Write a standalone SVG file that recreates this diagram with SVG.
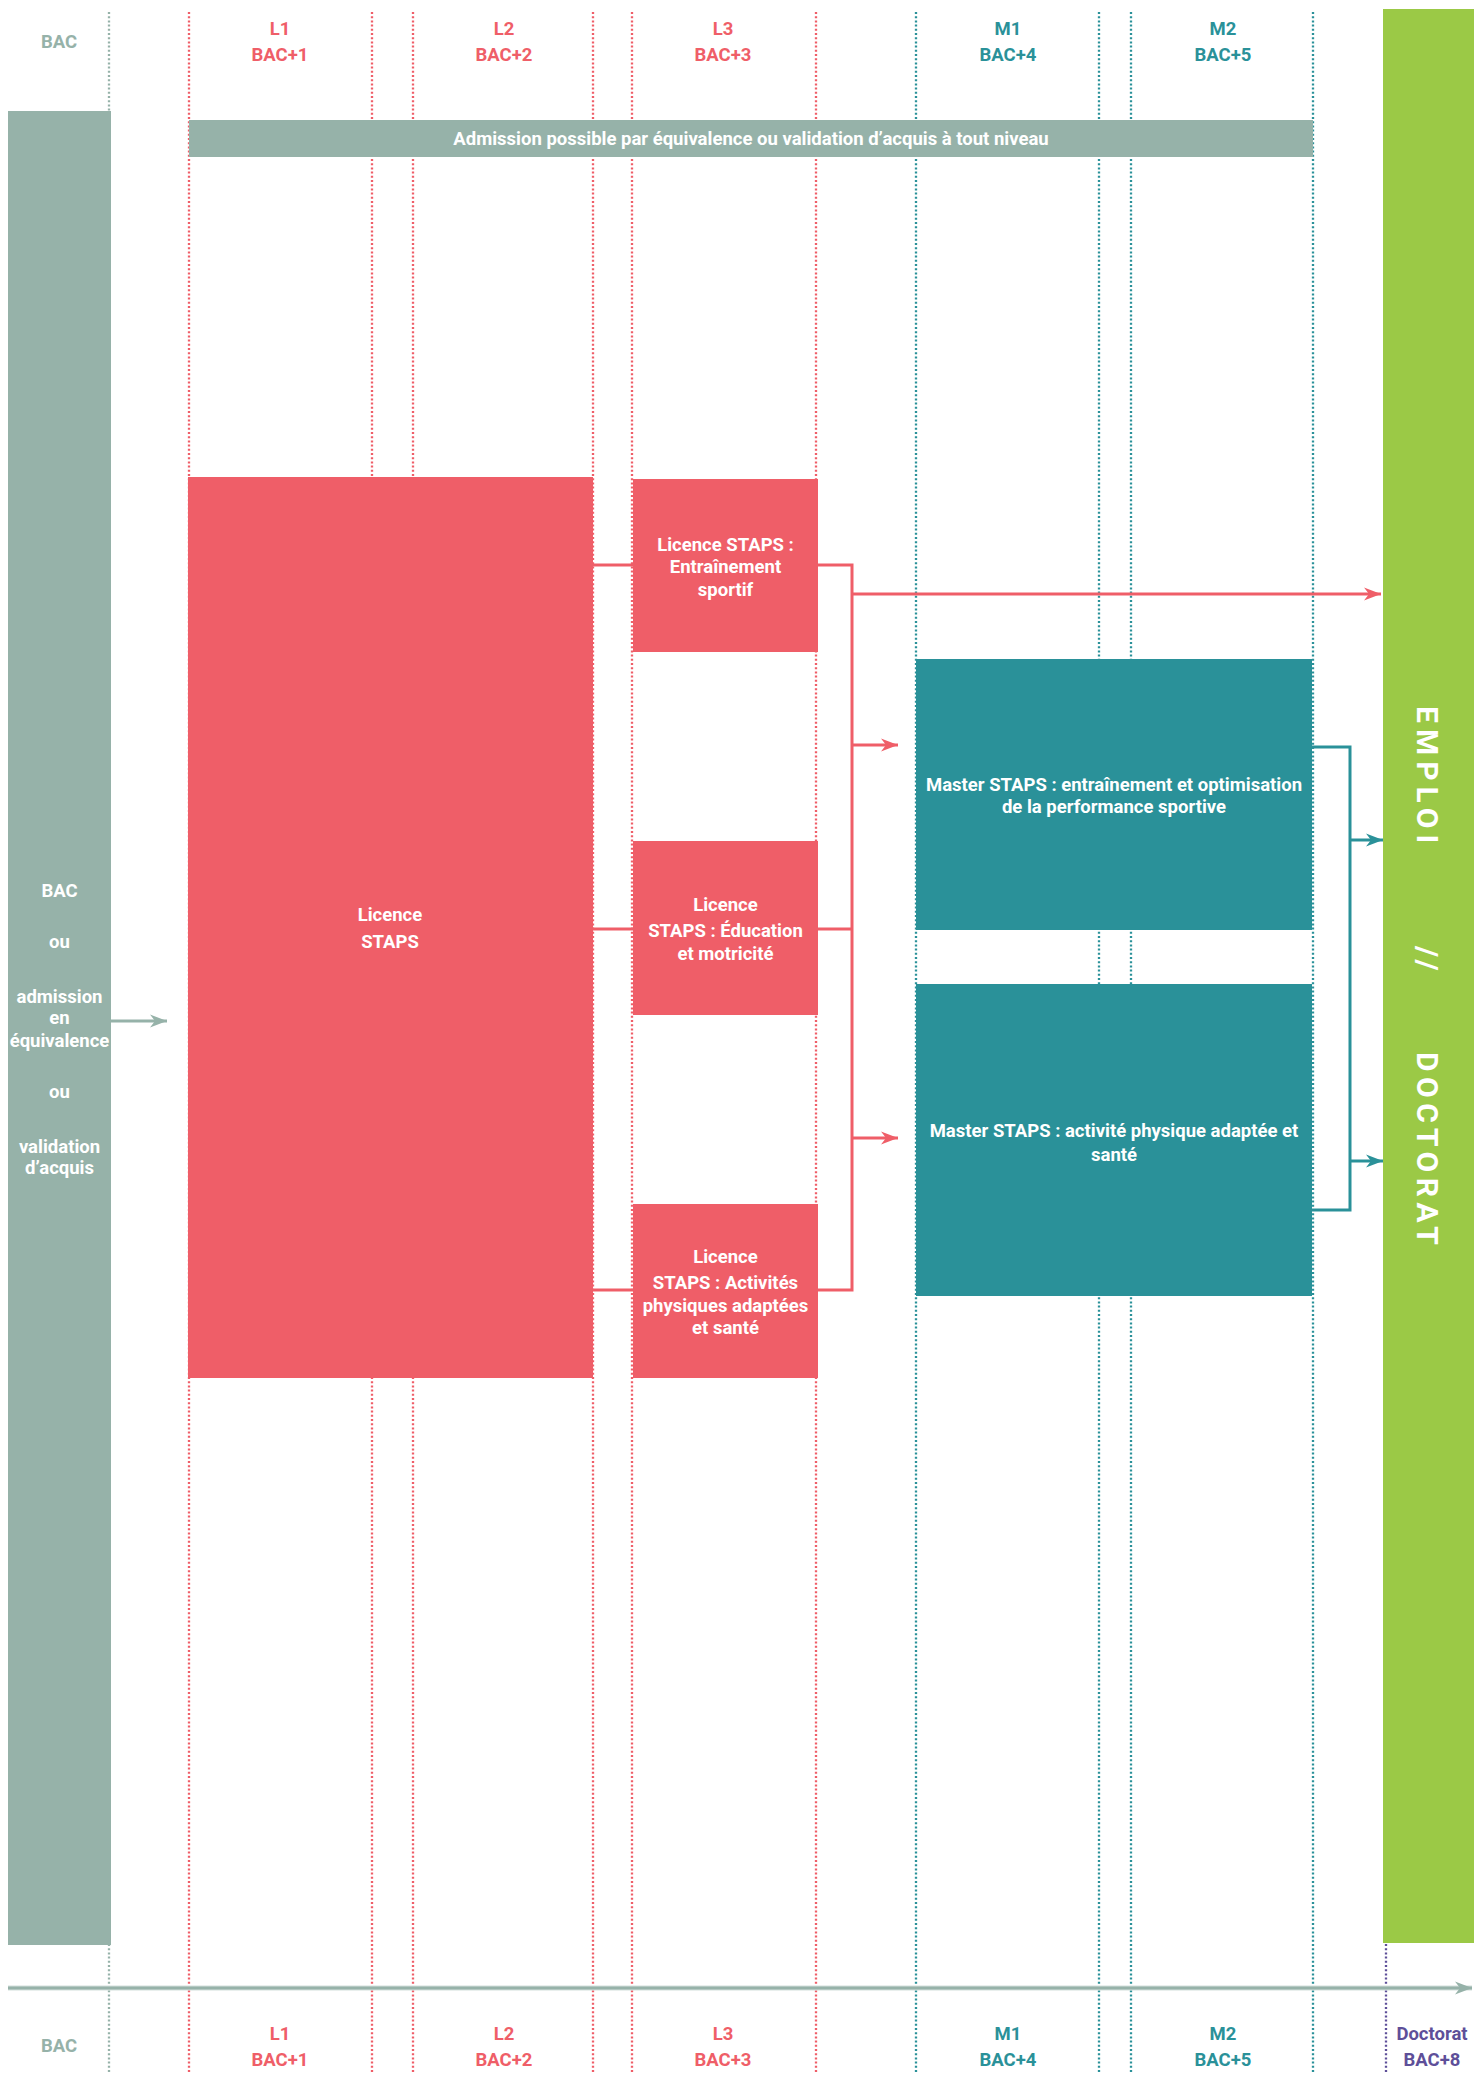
<svg xmlns="http://www.w3.org/2000/svg" width="1474" height="2074" viewBox="0 0 1474 2074">
<style>
.t{font-family:Roboto,"Liberation Sans","DejaVu Sans",sans-serif;font-weight:700;font-size:18.5px;text-anchor:middle}
.w{fill:#ffffff}
.cr{fill:#EF5E68}
.ct{fill:#2A9199}
.cg{fill:#96B2A9}
.cp{fill:#5E4F99}
.dr{stroke:#EF5E68;stroke-width:2.3;stroke-dasharray:2 2.2;fill:none}
.dt{stroke:#2A9199;stroke-width:2.3;stroke-dasharray:2 2.2;fill:none}
.dg{stroke:#96B2A9;stroke-width:2.3;stroke-dasharray:2 2.2;fill:none}
.dp{stroke:#5E4F99;stroke-width:2.3;stroke-dasharray:2 2.2;fill:none}
.lr{stroke:#EF5E68;stroke-width:3;fill:none}
.lt{stroke:#2A9199;stroke-width:3;fill:none}
.lg{stroke:#96B2A9;stroke-width:3;fill:none}
</style>
<defs>
<marker id="ar" markerUnits="userSpaceOnUse" markerWidth="18" markerHeight="14" refX="17" refY="7" orient="auto"><path d="M0,0.5 L17,7 L0,13.5 L5,7 Z" fill="#EF5E68"/></marker>
<marker id="at" markerUnits="userSpaceOnUse" markerWidth="18" markerHeight="14" refX="17" refY="7" orient="auto"><path d="M0,0.5 L17,7 L0,13.5 L5,7 Z" fill="#2A9199"/></marker>
<marker id="ag" markerUnits="userSpaceOnUse" markerWidth="18" markerHeight="14" refX="17" refY="7" orient="auto"><path d="M0,0.5 L17,7 L0,13.5 L5,7 Z" fill="#96B2A9"/></marker>
</defs>
<rect x="0" y="0" width="1474" height="2074" fill="#ffffff"/>

<g id="gridlines">
<line class="dg" x1="109" y1="12" x2="109" y2="2074"/>
<line class="dr" x1="189" y1="12" x2="189" y2="2074"/>
<line class="dr" x1="372" y1="12" x2="372" y2="2074"/>
<line class="dr" x1="413" y1="12" x2="413" y2="2074"/>
<line class="dr" x1="593" y1="12" x2="593" y2="2074"/>
<line class="dr" x1="632" y1="12" x2="632" y2="2074"/>
<line class="dr" x1="816" y1="12" x2="816" y2="2074"/>
<line class="dt" x1="916" y1="12" x2="916" y2="2074"/>
<line class="dt" x1="1099" y1="12" x2="1099" y2="2074"/>
<line class="dt" x1="1131" y1="12" x2="1131" y2="2074"/>
<line class="dt" x1="1313" y1="12" x2="1313" y2="2074"/>
<line class="dp" x1="1386" y1="12" x2="1386" y2="2074"/>
</g>

<g id="header-top">
<text class="t cg" x="59" y="48">BAC</text>
<text class="t cr" x="280" y="35">L1</text><text class="t cr" x="280" y="61">BAC+1</text>
<text class="t cr" x="504" y="35">L2</text><text class="t cr" x="504" y="61">BAC+2</text>
<text class="t cr" x="723" y="35">L3</text><text class="t cr" x="723" y="61">BAC+3</text>
<text class="t ct" x="1008" y="35">M1</text><text class="t ct" x="1008" y="61">BAC+4</text>
<text class="t ct" x="1223" y="35">M2</text><text class="t ct" x="1223" y="61">BAC+5</text>
</g>

<g id="timeline">
<line x1="8" y1="1988" x2="1472" y2="1988" stroke="#D3DFDB" stroke-width="5"/>
<line class="lg" x1="8" y1="1988" x2="1472" y2="1988" marker-end="url(#ag)"/>
<text class="t cg" x="59" y="2052">BAC</text>
<text class="t cr" x="280" y="2040">L1</text><text class="t cr" x="280" y="2066">BAC+1</text>
<text class="t cr" x="504" y="2040">L2</text><text class="t cr" x="504" y="2066">BAC+2</text>
<text class="t cr" x="723" y="2040">L3</text><text class="t cr" x="723" y="2066">BAC+3</text>
<text class="t ct" x="1008" y="2040">M1</text><text class="t ct" x="1008" y="2066">BAC+4</text>
<text class="t ct" x="1223" y="2040">M2</text><text class="t ct" x="1223" y="2066">BAC+5</text>
<text class="t cp" x="1432" y="2040">Doctorat</text><text class="t cp" x="1432" y="2066">BAC+8</text>
</g>

<g id="admission-bar">
<rect x="189" y="120" width="1124" height="37" fill="#96B2A9"/>
<text class="t w" x="751" y="145">Admission possible par équivalence ou validation d’acquis à tout niveau</text>
</g>

<g id="bac-entry">
<rect x="8" y="111" width="103" height="1834" fill="#96B2A9"/>
<text class="t w" x="59.5" y="897">BAC</text>
<text class="t w" x="59.5" y="948">ou</text>
<text class="t w" x="59.5" y="1003">admission</text>
<text class="t w" x="59.5" y="1024">en</text>
<text class="t w" x="59.5" y="1047">équivalence</text>
<text class="t w" x="59.5" y="1098">ou</text>
<text class="t w" x="59.5" y="1153">validation</text>
<text class="t w" x="59.5" y="1174">d’acquis</text>
</g>

<g id="licence-staps">
<rect x="188" y="477" width="405" height="901" fill="#EF5E68"/>
<text class="t w" x="390" y="921">Licence</text>
<text class="t w" x="390" y="948">STAPS</text>
</g>

<g id="licence-entrainement">
<rect x="633" y="479" width="185" height="173" fill="#EF5E68"/>
<text class="t w" x="725.5" y="551">Licence STAPS :</text>
<text class="t w" x="725.5" y="573">Entraînement</text>
<text class="t w" x="725.5" y="596">sportif</text>
</g>

<g id="licence-education">
<rect x="633" y="841" width="185" height="174" fill="#EF5E68"/>
<text class="t w" x="725.5" y="911">Licence</text>
<text class="t w" x="725.5" y="937">STAPS : Éducation</text>
<text class="t w" x="725.5" y="960">et motricité</text>
</g>

<g id="licence-apa">
<rect x="633" y="1204" width="185" height="174" fill="#EF5E68"/>
<text class="t w" x="725.5" y="1263">Licence</text>
<text class="t w" x="725.5" y="1289">STAPS : Activités</text>
<text class="t w" x="725.5" y="1312">physiques adaptées</text>
<text class="t w" x="725.5" y="1334">et santé</text>
</g>

<g id="master-entrainement">
<rect x="916" y="659" width="396" height="271" fill="#2A9199"/>
<text class="t w" x="1114" y="791">Master STAPS : entraînement et optimisation</text>
<text class="t w" x="1114" y="813">de la performance sportive</text>
</g>

<g id="master-apa">
<rect x="916" y="984" width="396" height="312" fill="#2A9199"/>
<text class="t w" x="1114" y="1137">Master STAPS : activité physique adaptée et</text>
<text class="t w" x="1114" y="1161">santé</text>
</g>

<g id="emploi-doctorat">
<rect x="1383" y="9" width="91" height="1934" fill="#9BC946"/>
<text transform="translate(1417,0) rotate(90)" font-family="Roboto,'Liberation Sans',sans-serif" font-weight="700" font-size="30" fill="#ffffff" letter-spacing="6"><tspan x="706" y="0">EMPLOI</tspan><tspan x="946" y="0">//</tspan><tspan x="1052" y="0" letter-spacing="5.5">DOCTORAT</tspan></text>
</g>

<g id="connectors">
<line class="lg" x1="111" y1="1021" x2="167" y2="1021" marker-end="url(#ag)"/>
<line class="lr" x1="593" y1="565" x2="633" y2="565"/>
<line class="lr" x1="593" y1="929" x2="633" y2="929"/>
<line class="lr" x1="593" y1="1290" x2="633" y2="1290"/>
<polyline class="lr" points="818,565 852,565 852,1290 818,1290"/>
<line class="lr" x1="818" y1="929" x2="852" y2="929"/>
<line class="lr" x1="852" y1="594" x2="1381" y2="594" marker-end="url(#ar)"/>
<line class="lr" x1="852" y1="745" x2="898" y2="745" marker-end="url(#ar)"/>
<line class="lr" x1="852" y1="1138" x2="898" y2="1138" marker-end="url(#ar)"/>
<polyline class="lt" points="1312,747 1350,747 1350,1210 1312,1210"/>
<line class="lt" x1="1350" y1="840" x2="1383" y2="840" marker-end="url(#at)"/>
<line class="lt" x1="1350" y1="1161" x2="1383" y2="1161" marker-end="url(#at)"/>
</g>
</svg>
